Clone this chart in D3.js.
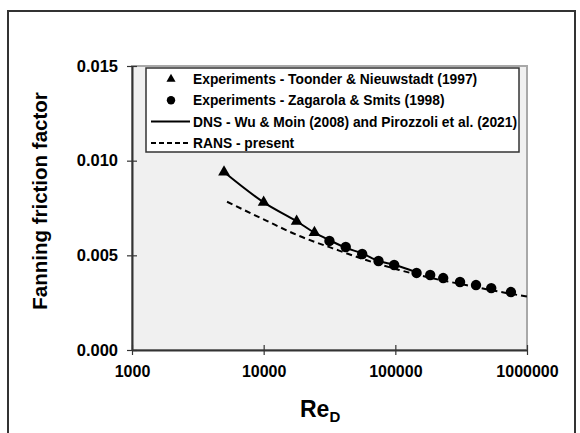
<!DOCTYPE html>
<html>
<head>
<meta charset="utf-8">
<script src="https://cdn.jsdelivr.net/npm/d3@7"></script>
<style>
  body { margin: 0; background: #fff; }
  text { font-family: "Liberation Sans", Arial, sans-serif; font-weight: bold; fill: #000; }
</style>
</head>
<body>
<div id="chart"></div>
<script>
// data
var toonderRe = [5000, 10000, 17800, 24300];
var toonderCf = [0.0094, 0.0078, 0.0068, 0.0062];

var zagarolaRe = [31600, 42000, 56000, 74500, 98000, 145000, 184000, 231000, 310000, 410000, 535000, 755000];
var zagarolaCf = [0.00576, 0.00544, 0.00507, 0.0047, 0.00449, 0.00407, 0.00396, 0.0038, 0.00359, 0.00343, 0.00327, 0.00306];

var dnsRe = [5000, 10000, 17800, 24300, 31600, 42000, 56000, 74500, 98000, 145000];
var dnsCf = [0.0094, 0.0078, 0.0068, 0.0062, 0.0058, 0.0054, 0.0051, 0.0047, 0.0045, 0.0041];

var ransRe = [5270, 10470, 18700, 33500, 60000, 107000, 191000, 343000, 615000, 1000000];
var ransCf = [0.00783, 0.00683, 0.00602, 0.00537, 0.00475, 0.00423, 0.00379, 0.00343, 0.00308, 0.00282];

var xTicks = [1000, 10000, 100000, 1000000];
var yTicks = [0, 0.005, 0.010, 0.015];

var legendItems = [
  {label: "Experiments - Toonder & Nieuwstadt (1997)", type: "triangle"},
  {label: "Experiments - Zagarola & Smits (1998)", type: "circle"},
  {label: "DNS - Wu & Moin (2008) and Pirozzoli et al. (2021)", type: "solid"},
  {label: "RANS - present", type: "dashed"}
];

var W = 580, H = 433;
var pl = 132, pr = 527, pt = 66, pb = 350;

var svg = d3.select("#chart").append("svg")
  .attr("width", W)
  .attr("height", H);

// outer frame
svg.append("path")
  .attr("d", "M8,440 L8,11 L575,11 L575,440")
  .attr("fill", "none")
  .attr("stroke", "#333")
  .attr("stroke-width", 2);

var x = d3.scaleLog().domain([1000, 1000000]).range([pl, pr]);
var y = d3.scaleLinear().domain([0, 0.015]).range([pb, pt]);

// plot area
svg.append("rect")
  .attr("x", pl).attr("y", pt)
  .attr("width", pr - pl).attr("height", pb - pt)
  .attr("fill", "#f0f0f0")
  .attr("stroke", "#a8a8a8")
  .attr("stroke-width", 2);

// axes
var xAxis = svg.append("g")
  .attr("transform", "translate(0," + pb + ")")
  .call(d3.axisBottom(x).tickValues(xTicks).tickFormat(d3.format("d")).tickSizeOuter(0));

var yAxis = svg.append("g")
  .attr("transform", "translate(" + pl + ",0)")
  .call(d3.axisLeft(y).tickValues(yTicks).tickFormat(d3.format(".3f")).tickSizeOuter(0));

xAxis.select(".domain").attr("stroke", "#333").attr("stroke-width", 2);
yAxis.select(".domain").attr("stroke", "#333").attr("stroke-width", 2);

xAxis.selectAll(".tick line").attr("y1", -5).attr("y2", 5).attr("stroke", "#333").attr("stroke-width", 1.2);
yAxis.selectAll(".tick line").attr("x1", -5).attr("x2", 5).attr("stroke", "#333").attr("stroke-width", 1.2);

xAxis.selectAll(".tick text")
  .attr("y", 16)
  .style("font-size", "16px");
yAxis.selectAll(".tick text")
  .attr("x", -14)
  .style("font-size", "16.5px");

// axis titles
svg.append("text")
  .attr("transform", "translate(47,201) rotate(-90)")
  .attr("text-anchor", "middle")
  .style("font-size", "20.5px")
  .text("Fanning friction factor");

var xt = svg.append("text")
  .attr("x", 300)
  .attr("y", 417)
  .style("font-size", "23px");
xt.append("tspan").text("Re");
xt.append("tspan").attr("dy", 5).style("font-size", "15px").text("D");

// legend
var leg = svg.append("g");
leg.append("rect")
  .attr("x", 146).attr("y", 68)
  .attr("width", 373).attr("height", 84)
  .attr("fill", "#fff")
  .attr("stroke", "#333")
  .attr("stroke-width", 1.5);

var legRows = leg.selectAll(".leg")
  .data(legendItems)
  .enter().append("g")
  .attr("class", "leg")
  .attr("transform", function(d, i) { return "translate(0," + (79 + i * 21.3) + ")"; });

legRows.append("text")
  .attr("x", 193)
  .attr("dy", "0.36em")
  .style("font-size", "13.8px")
  .text(function(d) { return d.label; });

legRows.filter(function(d) { return d.type == "triangle"; })
  .append("path")
  .attr("d", d3.symbol(d3.symbolTriangle, 36))
  .attr("transform", "translate(171,0)")
  .attr("fill", "#000");

legRows.filter(function(d) { return d.type == "circle"; })
  .append("circle")
  .attr("cx", 171).attr("r", 4.2)
  .attr("fill", "#000");

legRows.filter(function(d) { return d.type != "triangle" && d.type != "circle"; })
  .append("line")
  .attr("x1", 151).attr("x2", 190)
  .attr("stroke", "#000")
  .attr("stroke-width", 2)
  .attr("stroke-dasharray", function(d) { return d.type == "dashed" ? "5,3" : null; });

// lines
var line = d3.line()
  .x(function(d) { return x(d[0]); })
  .y(function(d) { return y(d[1]); })
  .curve(d3.curveMonotoneX);

svg.append("path")
  .datum(d3.zip(ransRe, ransCf))
  .attr("d", line)
  .attr("fill", "none")
  .attr("stroke", "#000")
  .attr("stroke-width", 2)
  .attr("stroke-dasharray", "6,4");

svg.append("path")
  .datum(d3.zip(dnsRe, dnsCf))
  .attr("d", line)
  .attr("fill", "none")
  .attr("stroke", "#000")
  .attr("stroke-width", 2);

// markers
svg.append("g")
  .selectAll("path")
  .data(d3.zip(toonderRe, toonderCf))
  .enter()
  .append("path")
  .attr("d", d3.symbol(d3.symbolTriangle, 60))
  .attr("transform", function(d) { return "translate(" + x(d[0]) + "," + y(d[1]) + ")"; })
  .attr("fill", "#000");

svg.append("g")
  .selectAll("circle")
  .data(d3.zip(zagarolaRe, zagarolaCf))
  .enter()
  .append("circle")
  .attr("cx", function(d) { return x(d[0]); })
  .attr("cy", function(d) { return y(d[1]); })
  .attr("r", 5.2)
  .attr("fill", "#000");
</script>
</body>
</html>
